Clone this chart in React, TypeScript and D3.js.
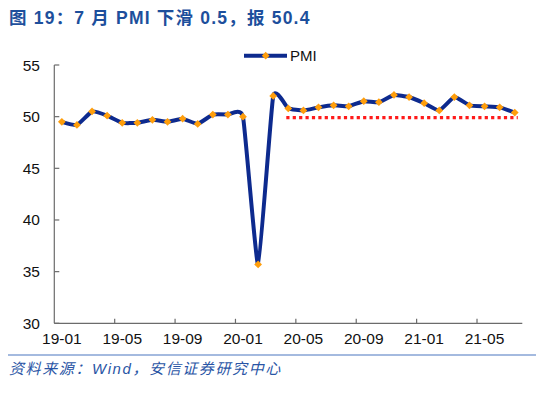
import React, { useEffect, useRef } from "react";
import * as d3 from "d3";

const months = [
  "19-01", "19-02", "19-03", "19-04", "19-05", "19-06", "19-07", "19-08", "19-09", "19-10", "19-11", "19-12",
  "20-01", "20-02", "20-03", "20-04", "20-05", "20-06", "20-07", "20-08", "20-09", "20-10", "20-11", "20-12",
  "21-01", "21-02", "21-03", "21-04", "21-05", "21-06", "21-07",
];
const pmi = [
  49.5, 49.2, 50.5, 50.1, 49.4, 49.4, 49.7, 49.5, 49.8, 49.3, 50.2, 50.2,
  50.0, 35.7, 52.0, 50.8, 50.6, 50.9, 51.1, 51.0, 51.5, 51.4, 52.1, 51.9,
  51.3, 50.6, 51.9, 51.1, 51.0, 50.9, 50.4,
];
const tickLabels = ["19-01", "19-05", "19-09", "20-01", "20-05", "20-09", "21-01", "21-05"];
const yTicks = [30, 35, 40, 45, 50, 55];
const refStart = "20-04";
const refValue = 50;

const App = () => {
  const svgRef = useRef<SVGSVGElement>(null);

  useEffect(() => {
    const svg = d3.select(svgRef.current);
    svg.selectAll("*").remove();

    const left = 54.3, right = 522.3, top = 65, bottom = 323.3;
    const font = "'Liberation Sans', Arial, 'Noto Sans CJK SC', sans-serif";
    const navy = "#0d2a8e";
    const orange = "#ff9e0b";

    const x = d3.scaleBand().domain(months).range([left, right]);
    const cx = (m: string) => (x(m) as number) + x.bandwidth() / 2;
    const y = d3.scaleLinear().domain([30, 55]).range([bottom, top]);

    // title
    svg.append("text")
      .attr("x", 9).attr("y", 24)
      .attr("font-family", font).attr("font-weight", "bold").attr("font-size", 17.5)
      .attr("letter-spacing", 1.2)
      .attr("fill", "#1d4f9c")
      .text("图 19：7 月 PMI 下滑 0.5，报 50.4");

    // axes
    const axisColor = "#6b6b6b";
    svg.append("line")
      .attr("x1", left).attr("x2", left).attr("y1", top).attr("y2", bottom)
      .attr("stroke", axisColor).attr("stroke-width", 1.2);
    svg.append("line")
      .attr("x1", left).attr("x2", right).attr("y1", bottom).attr("y2", bottom)
      .attr("stroke", axisColor).attr("stroke-width", 1.2);

    svg.append("g").selectAll("line").data(yTicks).join("line")
      .attr("x1", left).attr("x2", left + 5)
      .attr("y1", d => y(d)).attr("y2", d => y(d))
      .attr("stroke", axisColor).attr("stroke-width", 1.2);
    svg.append("g").selectAll("text").data(yTicks).join("text")
      .attr("x", 40).attr("y", d => y(d) + 5.5)
      .attr("text-anchor", "end")
      .attr("font-family", font).attr("font-size", 15.5).attr("fill", "#111")
      .text(d => d);

    svg.append("g").selectAll("line").data(tickLabels.slice(1)).join("line")
      .attr("x1", d => x(d) as number).attr("x2", d => x(d) as number)
      .attr("y1", bottom).attr("y2", bottom - 4.5)
      .attr("stroke", axisColor).attr("stroke-width", 1.2);
    svg.append("g").selectAll("text").data(tickLabels).join("text")
      .attr("x", d => cx(d)).attr("y", bottom + 21)
      .attr("text-anchor", "middle")
      .attr("font-family", font).attr("font-size", 15.5).attr("fill", "#111")
      .text(d => d);

    // reference dotted line
    const refMonths = months.slice(months.indexOf(refStart));
    svg.append("line")
      .attr("x1", cx(refMonths[0]) - 2).attr("x2", cx(refMonths[refMonths.length - 1]) + 3)
      .attr("y1", y(refValue) + 1).attr("y2", y(refValue) + 1)
      .attr("stroke", "#ff1a1a").attr("stroke-width", 3.2)
      .attr("stroke-dasharray", "3.2 3.2");

    // PMI line
    const line = d3.line<number>()
      .x((_, i) => cx(months[i]))
      .y(d => y(d))
      .curve(d3.curveCardinal.tension(0.6));
    svg.append("path")
      .attr("d", line(pmi))
      .attr("fill", "none").attr("stroke", navy).attr("stroke-width", 4)
      .attr("stroke-linejoin", "round");

    const diamond = d3.symbol().type(d3.symbolSquare).size(30);
    svg.append("g").selectAll("path").data(pmi).join("path")
      .attr("d", diamond)
      .attr("transform", (d, i) => `translate(${cx(months[i])},${y(d)}) rotate(45)`)
      .attr("fill", orange);

    // legend
    svg.append("line")
      .attr("x1", 244).attr("x2", 287).attr("y1", 55.7).attr("y2", 55.7)
      .attr("stroke", navy).attr("stroke-width", 4);
    svg.append("path")
      .attr("d", diamond)
      .attr("transform", "translate(265.7,55.7) rotate(45)")
      .attr("fill", orange);
    svg.append("text")
      .attr("x", 290).attr("y", 61)
      .attr("font-family", font).attr("font-size", 15).attr("fill", "#111")
      .text("PMI");

    // footer
    svg.append("line")
      .attr("x1", 8).attr("x2", 536).attr("y1", 355).attr("y2", 355)
      .attr("stroke", "#4a76c0").attr("stroke-width", 1.2);
    svg.append("text")
      .attr("x", 9).attr("y", 374)
      .attr("font-family", font).attr("font-style", "italic").attr("font-size", 15)
      .attr("letter-spacing", 1.6)
      .attr("fill", "#2a55a5")
      .text("资料来源：Wind，安信证券研究中心");
  }, []);

  return (
    <svg ref={svgRef} width={550} height={394}
      style={{ position: "absolute", left: 0, top: 0, background: "#fff" }} />
  );
};

export default App;
